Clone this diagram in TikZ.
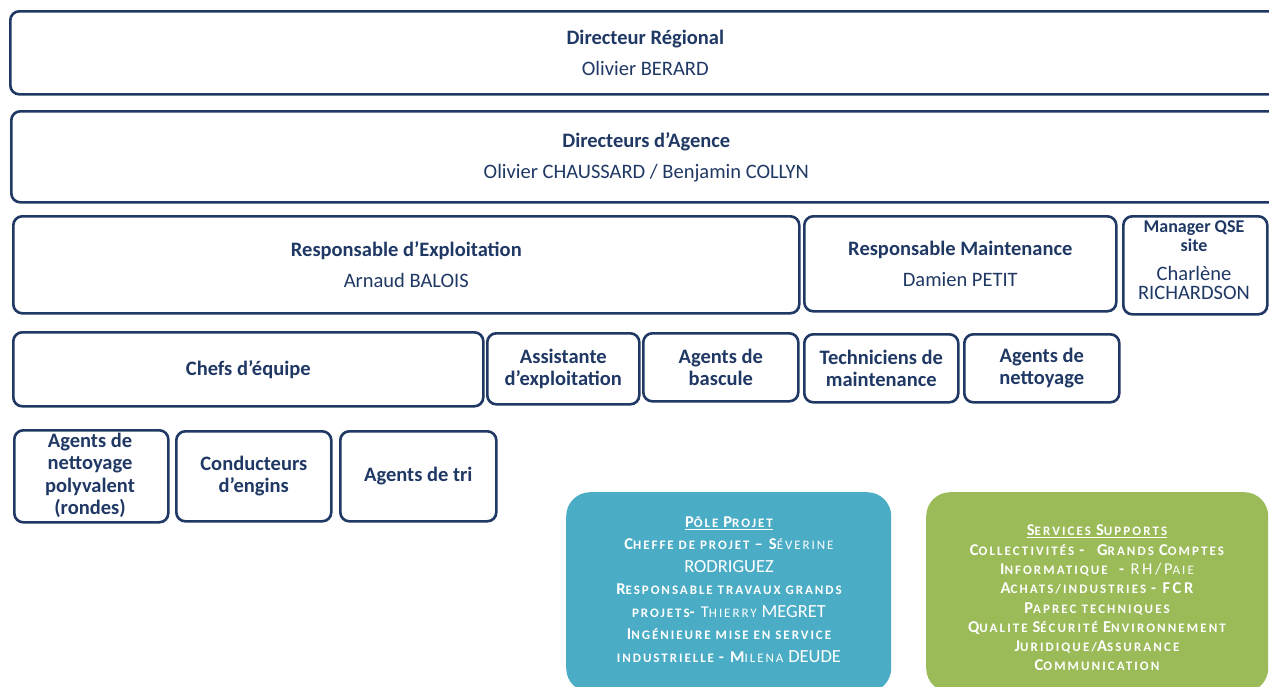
\documentclass[tikz,border=0pt]{standalone}
\usepackage{fontspec}
\setmainfont{Carlito}
\definecolor{navy}{HTML}{1F3864}
\definecolor{pole}{HTML}{4BACC6}
\definecolor{supp}{HTML}{9BBB59}
\newcommand\Bg[1]{{\fontsize{16.5pt}{18pt}\selectfont #1}}
\newcommand\Rb[1]{{\fontsize{18.5pt}{18pt}\selectfont\addfontfeature{LetterSpace=0}\mdseries #1}}
\newcommand\Rs[1]{{\mdseries #1}}
\begin{document}
\begin{tikzpicture}[x=1pt,y=-1pt,
  box/.style={draw=navy, line width=2.6pt, rounded corners=9pt, fill=white,
    align=center, inner sep=0pt, anchor=north west, text=navy,
    font=\fontsize{20.5pt}{22pt}\selectfont\bfseries},
  txt/.style={text=navy, align=center, inner sep=0pt,
    font=\fontsize{20.5pt}{22.5pt}\selectfont\bfseries},
  colbox/.style={rounded corners=24pt, inner sep=0pt, anchor=north west},
  coltxt/.style={text=white, align=center, inner sep=0pt}]
\useasboundingbox (0,0) rectangle (1269,686);
\fill[white] (0,0) rectangle (1269,686);
% row 1
\node[box, minimum width=1270pt, minimum height=83pt] (dr) at (9,10)
  {Directeur Régional\\[9pt]{\mdseries Olivier BERARD}};
% row 2
\node[box, minimum width=1270pt, minimum height=91pt] (da) at (10,110)
  {Directeurs d’Agence\\[9pt]{\mdseries Olivier CHAUSSARD / Benjamin COLLYN}};
% row 3
\node[box, minimum width=786pt, minimum height=97pt] (re) at (12,215)
  {Responsable d’Exploitation\\[9pt]{\mdseries Arnaud BALOIS}};
\node[box, minimum width=312pt, minimum height=95pt] (rm) at (803,215)
  {Responsable Maintenance\\[9pt]{\mdseries Damien PETIT}};
\node[box, minimum width=144pt, minimum height=98pt] (qse) at (1122,215) {};
\node[txt, font=\fontsize{18pt}{19pt}\selectfont\bfseries] (qset) at (1194,260)
  {Manager QSE\\site\\[10pt]{\fontsize{20.5pt}{19pt}\selectfont\mdseries Charlène}\\{\fontsize{20.5pt}{19pt}\selectfont\mdseries RICHARDSON}};
% row 4
\node[box, minimum width=470pt, minimum height=74pt] (ce) at (12,331) {Chefs d’équipe};
\node[box, minimum width=152pt, minimum height=71pt] (ae) at (486,332)
  {Assistante\\d’exploitation};
\node[box, minimum width=155pt, minimum height=68pt] (ab) at (642,332)
  {Agents de\\bascule};
\node[box, minimum width=154pt, minimum height=68pt] (tm) at (803,333)
  {Techniciens de\\maintenance};
\node[box, minimum width=155pt, minimum height=68pt] (an) at (963,333)
  {Agents de\\nettoyage};
% row 5
\node[box, minimum width=154pt, minimum height=92pt] (anp) at (13,429) {};
\node[txt] (anpt) at (90,475.5) {Agents de\\nettoyage\\polyvalent\\(rondes)};
\node[box, minimum width=155pt, minimum height=90pt] (ced) at (175,430)
  {Conducteurs\\d’engins};
\node[box, minimum width=156pt, minimum height=90pt] (at) at (339,430) {Agents de tri};
% coloured boxes
\node[colbox, fill=pole, minimum width=325pt, minimum height=200pt] (pp) at (566,492) {};
\node[coltxt, font=\fontsize{13pt}{22.5pt}\selectfont\bfseries\addfontfeature{LetterSpace=15}] (ppt) at (729,589.5)
  {\underline{\Bg{P}ÔLE \Bg{P}ROJET}\\
   \Bg{C}HEFFE DE PROJET \Bg{– S}\Rs{ÉVERINE}\\
   \Rb{RODRIGUEZ}\\
   \Bg{R}ESPONSABLE TRAVAUX GRANDS\\
   PROJETS\Bg{- }\Rs{\Bg{T}HIERRY} \Rb{MEGRET}\\
   \Bg{I}NGÉNIEURE MISE EN SERVICE\\
   INDUSTRIELLE \Bg{- M}\Rs{ILENA} \Rb{DEUDE}};
\node[colbox, fill=supp, minimum width=342pt, minimum height=200pt] (ss) at (926,492) {};
\node[coltxt, font=\fontsize{13pt}{19.3pt}\selectfont\bfseries\addfontfeature{LetterSpace=16}] (sst) at (1097,598)
  {\underline{\Bg{S}ERVICES \Bg{S}UPPORTS}\\
   \Bg{C}OLLECTIVITÉS \Bg{-\ \ G}RANDS \Bg{C}OMPTES\\
   \Bg{I}NFORMATIQUE \Bg{\ - }\Rs{\Bg{RH/P}AIE}\\
   \Bg{A}CHATS/INDUSTRIES \Bg{- FCR}\\
   \Bg{P}APREC TECHNIQUES\\
   \Bg{Q}UALITE \Bg{S}ÉCURITÉ \Bg{E}NVIRONNEMENT\\
   \Bg{J}URIDIQUE/\Bg{A}SSURANCE\\
   \Bg{C}OMMUNICATION};
\end{tikzpicture}
\end{document}
